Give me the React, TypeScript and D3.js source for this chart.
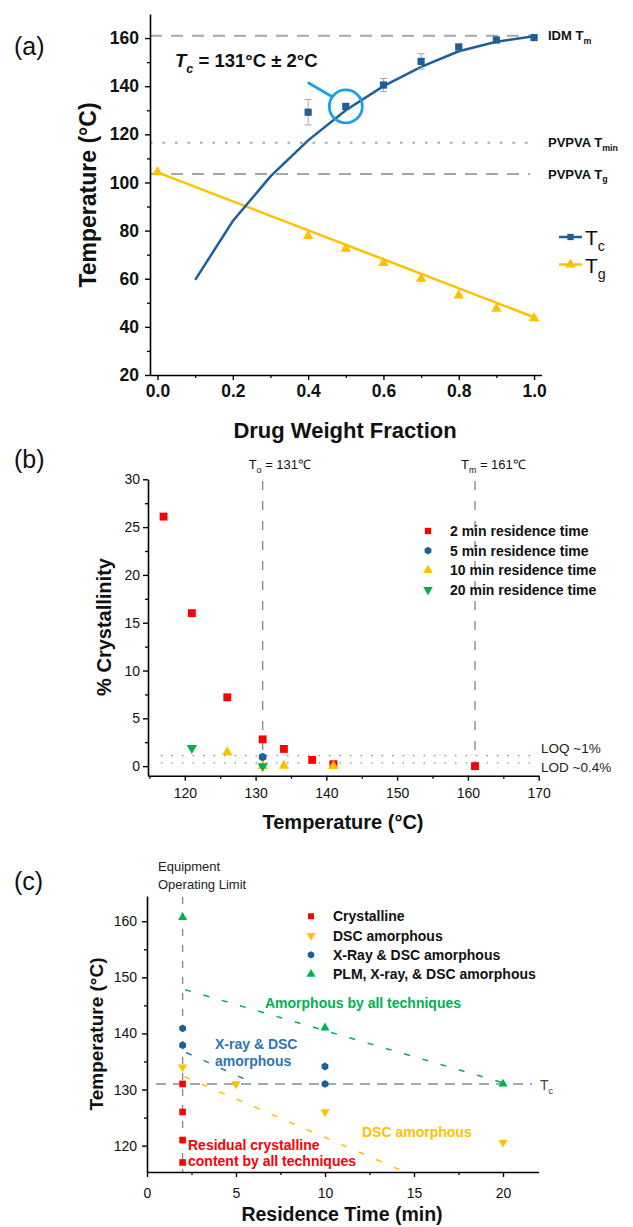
import React, { useRef, useEffect } from 'react';
import * as d3 from 'd3';

const FONT = '"Liberation Sans", Arial, Helvetica, sans-serif';
const BLUE = '#1f5f99';
const GOLD = '#ffc000';
const RED = '#ff0000';
const GREEN = '#00b050';

// ---- (a) Tc and Tg vs drug weight fraction
const tcFraction = [0.4, 0.5, 0.6, 0.7, 0.8, 0.9, 1.0];
const tcTemp = [129.2, 131.6, 140.5, 150.3, 156.3, 159.2, 160.2];
const tcError = [5.3, 1.2, 2.7, 3.2, 1.2, 0.9, 0.6];
const tcFitFraction = [0.1, 0.2, 0.3, 0.4, 0.5, 0.6, 0.7, 0.8, 0.9, 1.0];
const tcFitTemp = [59.5, 84, 102.5, 117.5, 130, 140, 148, 154.5, 158.5, 160.8];
const tgFraction = [0, 0.4, 0.5, 0.6, 0.7, 0.8, 0.9, 1.0];
const tgTemp = [104.3, 77.8, 72.5, 66.6, 60, 53, 47.5, 43.6];
const tgFitFraction = [0, 1];
const tgFitTemp = [104.2, 44];
const refTempsA = [161, 116.5, 103.5];
const refLabelsA = [['IDM T', 'm'], ['PVPVA T', 'min'], ['PVPVA T', 'g']];
const xTicksA = [0, 0.2, 0.4, 0.6, 0.8, 1.0];
const xMinorA = [0.1, 0.3, 0.5, 0.7, 0.9];
const yTicksA = [20, 40, 60, 80, 100, 120, 140, 160];
const yMinorA = [30, 50, 70, 90, 110, 130, 150];

// ---- (b) % crystallinity vs temperature
const temp2min = [117, 121, 126, 131, 134, 138, 141, 161];
const cryst2min = [26.1, 16, 7.2, 2.8, 1.8, 0.65, 0.2, 0];
const temp5min = [131];
const cryst5min = [0.95];
const temp10min = [126, 131, 134, 141];
const cryst10min = [1.45, 0, 0.05, 0];
const temp20min = [121, 131];
const cryst20min = [1.9, 0];
const seriesNamesB = ['2 min residence time', '5 min residence time', '10 min residence time', '20 min residence time'];
const refTempsB = [131, 161];
const refLabelsB = [['T', 'o', ' = 131\u2103'], ['T', 'm', ' = 161\u2103']];
const limitValuesB = [1.1, 0.35];
const limitLabelsB = ['LOQ ~1%', 'LOD ~0.4%'];
const xTicksB = [120, 130, 140, 150, 160, 170];
const xMinorB = [115, 125, 135, 145, 155, 165];
const yTicksB = [0, 5, 10, 15, 20, 25, 30];
const yMinorB = [2.5, 7.5, 12.5, 17.5, 22.5, 27.5];

// ---- (c) processing map
const crystTime = [2, 2, 2, 2];
const crystTemp = [131, 126, 121, 117];
const dscTime = [2, 5, 10, 20];
const dscTemp = [134, 131, 126, 120.6];
const xrayTime = [2, 2, 10, 10];
const xrayTemp = [140.9, 137.9, 134.1, 131];
const plmTime = [2, 10, 20];
const plmTemp = [160.7, 141, 131];
const seriesNamesC = ['Crystalline', 'DSC amorphous', 'X-Ray & DSC amorphous', 'PLM, X-ray, & DSC amorphous'];
const greenGuideTime = [2.15, 19.9];
const greenGuideTemp = [147.8, 131.3];
const blueGuideTime = [2.2, 5.8];
const blueGuideTemp = [136.6, 131.4];
const goldGuideTime = [2.1, 14.5];
const goldGuideTemp = [132.3, 115.3];
const operatingLimitTime = 2;
const tcTempC = 131;
const xTicksC = [0, 5, 10, 15, 20];
const xMinorC = [2.5, 7.5, 12.5, 17.5];
const yTicksC = [120, 130, 140, 150, 160];
const yMinorC = [125, 135, 145, 155];

// pointy-top hexagon marker
const symbolHexagon = {
  draw(ctx, size) {
    const r = Math.sqrt(size / (1.5 * Math.sqrt(3)));
    for (let i = 0; i < 6; i++) {
      const a = -Math.PI / 2 + (i * Math.PI) / 3;
      if (i === 0) ctx.moveTo(r * Math.cos(a), r * Math.sin(a));
      else ctx.lineTo(r * Math.cos(a), r * Math.sin(a));
    }
    ctx.closePath();
  },
};

function marker(g, type, size, color, x, y, flip = false) {
  g.append('path')
    .attr('d', d3.symbol().type(type).size(size)())
    .attr('transform', `translate(${x},${y})${flip ? ' rotate(180)' : ''}`)
    .attr('fill', color);
}

// text made of parts: [string, style] where style is '', 'sub', 'it', 'itsub'
function richText(g, x, y, parts, size, opts: any = {}) {
  const t = g.append('text')
    .attr('x', x).attr('y', y)
    .attr('font-family', FONT)
    .attr('font-size', size)
    .attr('font-weight', opts.weight || 'normal')
    .attr('fill', opts.fill || '#111')
    .attr('text-anchor', opts.anchor || 'start');
  let shifted = false;
  parts.forEach(([s, style]) => {
    const sub = style === 'sub' || style === 'itsub';
    const ts = t.append('tspan').text(s);
    if (style === 'it' || style === 'itsub') ts.attr('font-style', 'italic');
    if (sub && !shifted) { ts.attr('dy', size * 0.3).attr('font-size', size * 0.68); shifted = true; }
    else if (sub) ts.attr('font-size', size * 0.68);
    else if (shifted) { ts.attr('dy', -size * 0.3); shifted = false; }
  });
  return t;
}

function drawAxes(g, x, y, o) {
  const bottom = y.range()[0];
  const left = x.range()[0];
  const tickText = a => a.selectAll('.tick text')
    .attr('font-size', o.fs)
    .attr('font-weight', o.fw)
    .attr('font-family', FONT)
    .attr('fill', '#111');

  g.append('g').attr('transform', `translate(0,${bottom})`)
    .call(d3.axisBottom(x).tickValues(o.xMinor).tickSize(3).tickFormat(() => ''))
    .call(a => a.select('.domain').remove())
    .call(a => a.selectAll('line').attr('stroke-width', 1.3));
  g.append('g').attr('transform', `translate(${left},0)`)
    .call(d3.axisLeft(y).tickValues(o.yMinor).tickSize(3).tickFormat(() => ''))
    .call(a => a.select('.domain').remove())
    .call(a => a.selectAll('line').attr('stroke-width', 1.3));

  g.append('g').attr('transform', `translate(0,${bottom})`)
    .call(d3.axisBottom(x).tickValues(o.xTicks).tickFormat(o.xFmt).tickSize(5).tickSizeOuter(0).tickPadding(o.xPad))
    .call(a => a.select('.domain').attr('stroke-width', 1.6))
    .call(a => a.selectAll('line').attr('stroke-width', 1.4))
    .call(tickText);
  g.append('g').attr('transform', `translate(${left},0)`)
    .call(d3.axisLeft(y).tickValues(o.yTicks).tickFormat(o.yFmt).tickSize(5).tickSizeOuter(0).tickPadding(o.yPad))
    .call(a => a.select('.domain').attr('stroke-width', 1.6))
    .call(a => a.selectAll('line').attr('stroke-width', 1.4))
    .call(tickText);
}

function axisTitle(g, x, y, text, size, rotate = false) {
  g.append('text')
    .attr('transform', `translate(${x},${y})${rotate ? ' rotate(-90)' : ''}`)
    .attr('text-anchor', 'middle')
    .attr('font-family', FONT)
    .attr('font-size', size)
    .attr('font-weight', 'bold')
    .attr('fill', '#111')
    .text(text);
}

function panelLabel(g, y, text) {
  g.append('text').attr('x', 14).attr('y', y)
    .attr('font-family', FONT).attr('font-size', 25).attr('fill', '#111')
    .text(text);
}

export default function App() {
  const svgRef = useRef(null);

  useEffect(() => {
    const svg = d3.select(svgRef.current);
    svg.selectAll('*').remove();

    // ================= (a) =================
    const xA = d3.scaleLinear().domain([-0.02, 1.02]).range([150, 541.6]);
    const yA = d3.scaleLinear().domain([20, 170]).range([375, 14]);
    const gA = svg.append('g');
    panelLabel(gA, 55, '(a)');

    // reference lines
    refTempsA.forEach((v, i) => {
      gA.append('line')
        .attr('x1', xA.range()[0]).attr('x2', 530)
        .attr('y1', yA(v)).attr('y2', yA(v))
        .attr('stroke', '#a6a6a6').attr('stroke-width', 2)
        .attr('stroke-dasharray', i === 1 ? '2.5,10' : '12,9');
      richText(gA, 548, yA(v) + 4.5, [[refLabelsA[i][0], ''], [refLabelsA[i][1], 'sub']], 13, { weight: 'bold' });
    });

    drawAxes(gA, xA, yA, {
      xTicks: xTicksA, xMinor: xMinorA, yTicks: yTicksA, yMinor: yMinorA,
      xFmt: d3.format('.1f'), yFmt: d3.format('d'), fs: 17.5, fw: 'bold', xPad: 5, yPad: 6,
    });
    axisTitle(gA, 345, 438, 'Drug Weight Fraction', 22);
    axisTitle(gA, 96, 195, 'Temperature (\u00b0C)', 23, true);

    // Tg fit and markers
    const line = d3.line().x(d => xA(d[0])).y(d => yA(d[1]));
    gA.append('path')
      .datum(d3.zip(tgFitFraction, tgFitTemp))
      .attr('d', line).attr('fill', 'none').attr('stroke', GOLD).attr('stroke-width', 2.5);
    tgFraction.forEach((f, i) => marker(gA, d3.symbolTriangle, 48, GOLD, xA(f), yA(tgTemp[i])));

    // Tc fit, error bars, markers
    gA.append('path')
      .datum(d3.zip(tcFitFraction, tcFitTemp))
      .attr('d', line).attr('fill', 'none').attr('stroke', BLUE).attr('stroke-width', 2.5);
    tcFraction.forEach((f, i) => {
      const cx = xA(f);
      const y1 = yA(tcTemp[i] + tcError[i]);
      const y2 = yA(tcTemp[i] - tcError[i]);
      gA.append('path')
        .attr('d', `M${cx},${y1}V${y2}M${cx - 3.5},${y1}H${cx + 3.5}M${cx - 3.5},${y2}H${cx + 3.5}`)
        .attr('stroke', '#a8a8a8').attr('stroke-width', 1).attr('fill', 'none');
    });
    tcFraction.forEach((f, i) => marker(gA, d3.symbolSquare, 52, BLUE, xA(f), yA(tcTemp[i])));

    // highlighted crystallization point
    const hx = xA(tcFraction[1]);
    const hy = yA(tcTemp[1]);
    gA.append('circle').attr('cx', hx).attr('cy', hy).attr('r', 16.5)
      .attr('fill', 'none').attr('stroke', '#1ba1e2').attr('stroke-width', 2.8);
    gA.append('line').attr('x1', hx - 38).attr('y1', hy - 24).attr('x2', hx - 14).attr('y2', hy - 10)
      .attr('stroke', '#1ba1e2').attr('stroke-width', 2.8);
    richText(gA, 175, 67, [['T', 'it'], ['c', 'itsub'], [' = 131\u00b0C \u00b1 2\u00b0C', '']], 18.5, { weight: 'bold' });

    // legend
    [['c', BLUE, d3.symbolSquare, 40], ['g', GOLD, d3.symbolTriangle, 48]].forEach(([s, c, sym, sz]: any, i) => {
      const ly = 237 + i * 27.5;
      gA.append('line').attr('x1', 559).attr('x2', 582).attr('y1', ly).attr('y2', ly)
        .attr('stroke', c).attr('stroke-width', 2.5);
      marker(gA, sym, sz, c, 570.5, ly);
      richText(gA, 585, ly + 8, [['T', ''], [s, 'sub']], 21);
    });

    // ================= (b) =================
    const xB = d3.scaleLinear().domain([114.8, 170]).range([148, 538.7]);
    const yB = d3.scaleLinear().domain([-1, 30]).range([775.7, 479.3]);
    const gB = svg.append('g');
    panelLabel(gB, 468, '(b)');

    refTempsB.forEach((v, i) => {
      gB.append('line').attr('x1', xB(v)).attr('x2', xB(v))
        .attr('y1', 481).attr('y2', yB.range()[0])
        .attr('stroke', '#8c8c8c').attr('stroke-width', 1.4).attr('stroke-dasharray', '9,11');
      const p = refLabelsB[i];
      richText(gB, xB(v) - 14, 469, [[p[0], ''], [p[1], 'sub'], [p[2], '']], 13);
    });
    limitValuesB.forEach((v, i) => {
      gB.append('line').attr('x1', 161).attr('x2', 538)
        .attr('y1', yB(v)).attr('y2', yB(v))
        .attr('stroke', '#8c8c8c').attr('stroke-width', 1.3).attr('stroke-dasharray', '1.5,9');
      gB.append('text').attr('x', 541).attr('y', i === 0 ? 753 : 772)
        .attr('font-family', FONT).attr('font-size', 13.5).attr('fill', '#222')
        .text(limitLabelsB[i]);
    });

    drawAxes(gB, xB, yB, {
      xTicks: xTicksB, xMinor: xMinorB, yTicks: yTicksB, yMinor: yMinorB,
      xFmt: d3.format('d'), yFmt: d3.format('d'), fs: 14, fw: 'normal', xPad: 7, yPad: 3,
    });
    axisTitle(gB, 343, 829, 'Temperature (\u00b0C)', 20);
    axisTitle(gB, 111, 627, '% Crystallinity', 20, true);

    const seriesB = [
      [temp2min, cryst2min, d3.symbolSquare, 62, RED, false],
      [temp5min, cryst5min, symbolHexagon, 50, BLUE, false],
      [temp10min, cryst10min, d3.symbolTriangle, 46, GOLD, false],
      [temp20min, cryst20min, d3.symbolTriangle, 46, GREEN, true],
    ];
    seriesB.forEach(([xs, ys, sym, sz, c, flip]: any) => {
      xs.forEach((t, i) => marker(gB, sym, sz, c, xB(t), yB(ys[i]), flip));
    });
    seriesB.forEach(([, , sym, , c, flip]: any, i) => {
      const ly = 531 + i * 19.6;
      marker(gB, sym, 40, c, 428, ly, flip);
      gB.append('text').attr('x', 450).attr('y', ly + 5)
        .attr('font-family', FONT).attr('font-size', 14).attr('font-weight', 'bold').attr('fill', '#111')
        .text(seriesNamesB[i]);
    });

    // ================= (c) =================
    const xC = d3.scaleLinear().domain([0, 22]).range([147, 538.6]);
    const yC = d3.scaleLinear().domain([115.3, 164.5]).range([1172, 896]);
    const gC = svg.append('g');
    panelLabel(gC, 890, '(c)');

    gC.append('line').attr('x1', xC(operatingLimitTime)).attr('x2', xC(operatingLimitTime))
      .attr('y1', 897).attr('y2', yC.range()[0])
      .attr('stroke', '#8c8c8c').attr('stroke-width', 1.4).attr('stroke-dasharray', '7,9');
    gC.append('line').attr('x1', 156).attr('x2', 532)
      .attr('y1', yC(tcTempC)).attr('y2', yC(tcTempC))
      .attr('stroke', '#8c8c8c').attr('stroke-width', 1.4).attr('stroke-dasharray', '10,7');
    richText(gC, 540, yC(tcTempC) + 6, [['T', ''], ['c', 'sub']], 14, { fill: '#444' });
    ['Equipment', 'Operating Limit'].forEach((s, i) => {
      gC.append('text').attr('x', 158).attr('y', 871 + i * 18)
        .attr('font-family', FONT).attr('font-size', 13).attr('fill', '#222').text(s);
    });

    drawAxes(gC, xC, yC, {
      xTicks: xTicksC, xMinor: xMinorC, yTicks: yTicksC, yMinor: yMinorC,
      xFmt: d3.format('d'), yFmt: d3.format('d'), fs: 14, fw: 'normal', xPad: 11, yPad: 5,
    });
    axisTitle(gC, 342, 1221, 'Residence Time (min)', 19.5);
    axisTitle(gC, 103, 1034, 'Temperature (\u00b0C)', 19, true);

    // guide lines
    const lineC = d3.line().x(d => xC(d[0])).y(d => yC(d[1]));
    [[greenGuideTime, greenGuideTemp, GREEN], [blueGuideTime, blueGuideTemp, '#2e75b6'], [goldGuideTime, goldGuideTemp, GOLD]]
      .forEach(([ts, vs, c]: any) => {
        gC.append('path').datum(d3.zip(ts, vs)).attr('d', lineC)
          .attr('fill', 'none').attr('stroke', c).attr('stroke-width', 1.5).attr('stroke-dasharray', '6,13');
      });

    // region labels
    const regionText = (x, y, s, c) => gC.append('text').attr('x', x).attr('y', y)
      .attr('font-family', FONT).attr('font-size', 14).attr('font-weight', 'bold').attr('fill', c).text(s);
    regionText(265, 1008, 'Amorphous by all techniques', GREEN);
    regionText(215, 1049, 'X-ray & DSC', '#2e75b6');
    regionText(215, 1065.5, 'amorphous', '#2e75b6');
    regionText(362, 1137, 'DSC amorphous', GOLD);
    regionText(188, 1150, 'Residual crystalline', RED);
    regionText(188, 1166, 'content by all techniques', RED);

    const seriesC = [
      [crystTime, crystTemp, d3.symbolSquare, 44, RED, false],
      [dscTime, dscTemp, d3.symbolTriangle, 36, GOLD, true],
      [xrayTime, xrayTemp, symbolHexagon, 40, BLUE, false],
      [plmTime, plmTemp, d3.symbolTriangle, 36, GREEN, false],
    ];
    seriesC.forEach(([xs, ys, sym, sz, c, flip]: any) => {
      xs.forEach((t, i) => marker(gC, sym, sz, c, xC(t), yC(ys[i]), flip));
    });
    seriesC.forEach(([, , sym, , c, flip]: any, i) => {
      const ly = 916.3 + i * 19.3;
      marker(gC, sym, 36, c, 311, ly, flip);
      gC.append('text').attr('x', 333).attr('y', ly + 5)
        .attr('font-family', FONT).attr('font-size', 14).attr('font-weight', 'bold').attr('fill', '#111')
        .text(seriesNamesC[i]);
    });
  }, []);

  return (
    <svg
      ref={svgRef}
      width={633}
      height={1227}
      viewBox="0 0 633 1227"
      style={{ position: 'absolute', left: 0, top: 0, background: '#fff', display: 'block' }}
    />
  );
}
